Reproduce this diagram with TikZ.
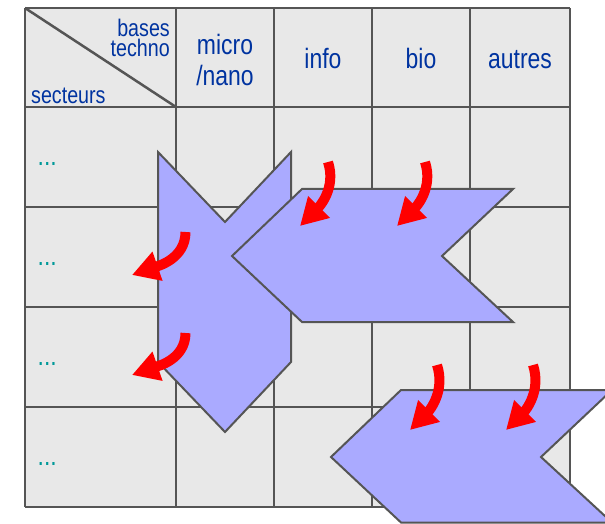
\documentclass[tikz,border=0pt]{standalone}
\usepackage{fontspec}
\setmainfont{Liberation Sans}[FakeStretch=0.82]
\usepackage{tikz}
\usetikzlibrary{arrows.meta}
\definecolor{gridgray}{RGB}{85,85,85}
\definecolor{cellgray}{RGB}{232,232,232}
\definecolor{labelblue}{RGB}{0,51,160}
\definecolor{dotteal}{RGB}{0,153,153}
\definecolor{chevronblue}{RGB}{170,170,255}
\newcommand{\bigtip}{-{Triangle[length=27pt,width=29pt]}}

\begin{document}
\begin{tikzpicture}[x=1pt,y=1pt,
        gridline/.style={draw=gridgray,line width=2.5pt,line cap=square},
        chevron/.style={fill=chevronblue,draw=gridgray,line width=2pt},
        push/.style={draw=red,line width=10pt},
        head/.style={text=labelblue,inner sep=0pt,font=\fontsize{28}{31.6}\selectfont},
        corner/.style={text=labelblue,inner sep=0pt,font=\fontsize{24}{20}\selectfont},
        dots/.style={text=dotteal,inner sep=0pt,font=\fontsize{28}{30}\selectfont}]
                \useasboundingbox (0,0) rectangle (605,523);
                \clip (0,0) rectangle (605,523);
                \fill[cellgray] (25,16) rectangle (570,515);
                \foreach \x in {25,176,274,372,470,570}
                    \draw[gridline] (\x,16) -- (\x,515);
                \foreach \y in {16,116,216,316,416,515}
                    \draw[gridline] (25,\y) -- (570,\y);
                \draw[gridline] (25,515) -- (176,416);
                \node[corner,align=right,anchor=north east] (bases) at (170,504) {bases\\techno};
                \node[corner,anchor=base west] (secteurs) at (31,419) {secteurs};
                \node[head,align=center] (micro) at (225,463) {micro\\/nano};
                \node[head,anchor=base] (info) at (323,454.7) {info};
                \node[head,anchor=base] (bio) at (421,454.7) {bio};
                \node[head,anchor=base] (autres) at (520,454.7) {autres};
                \foreach \y [count=\i] in {357.5,257.5,157.5,57.5}
                    \node[dots,anchor=base west] (dots\i) at (37.5,\y) {...};
                \draw[chevron] (158,371) -- (225,301) -- (291,371) -- (291,161) -- (225,91) -- (158,161) -- cycle;
                \draw[chevron] (302,334) -- (513,334) -- (442,267) -- (513,201) -- (302,201) -- (232,267) -- cycle;
                \draw[chevron] (401,133) -- (612,133) -- (541,66) -- (612,0.5) -- (401,0.5) -- (331,66) -- cycle;
                \draw[push,\bigtip] (185.5,291) to[out=-90,in=19] (132,248);
                \draw[push,\bigtip] (185.5,190) to[out=-90,in=19] (132,148);
                \draw[push,\bigtip] (328,361) to[out=-72,in=45] (300,297);
                \draw[push,\bigtip] (425,361) to[out=-72,in=45] (397,297);
                \draw[push,\bigtip] (437,158) to[out=-72,in=45] (410,93);
                \draw[push,\bigtip] (533,158) to[out=-72,in=45] (506,93);
            \end{tikzpicture}
\end{document}
